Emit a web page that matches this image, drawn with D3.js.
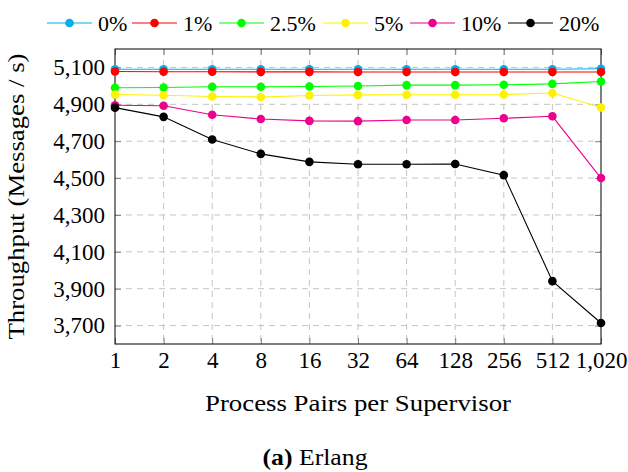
<!DOCTYPE html>
<html>
<head>
<meta charset="utf-8">
<script src="https://cdn.jsdelivr.net/npm/d3@7"></script>
<style>
  html, body { margin: 0; padding: 0; background: #fff; }
  svg { display: block; }
  text { font-family: "Liberation Serif", "Times New Roman", serif; fill: #000; }
</style>
</head>
<body>
<svg id="chart" width="628" height="472"></svg>
<script>
// Process pairs per supervisor (x categories)
const categories = ["1", "2", "4", "8", "16", "32", "64", "128", "256", "512", "1,020"];

// Throughput (messages / s) per failure rate
const seriesNames = ["0%", "1%", "2.5%", "5%", "10%", "20%"];
const rate0   = [5090, 5090, 5090, 5090, 5090, 5090, 5090, 5090, 5090, 5090, 5093];
const rate1   = [5078, 5077, 5077, 5076, 5076, 5075, 5075, 5075, 5075, 5075, 5075];
const rate2_5 = [4990, 4991, 4995, 4995, 4997, 4999, 5004, 5004, 5006, 5011, 5024];
const rate5   = [4953, 4949, 4942, 4940, 4948, 4951, 4952, 4952, 4953, 4961, 4883];
const rate10  = [4895, 4892, 4843, 4820, 4810, 4809, 4815, 4815, 4824, 4835, 4500];
const rate20  = [4882, 4832, 4709, 4631, 4588, 4575, 4575, 4576, 4516, 3941, 3714];
const seriesColors = ["#00aeef", "#ff0000", "#00ff00", "#fff200", "#ec008c", "#000000"];

const yTicks = [3700, 3900, 4100, 4300, 4500, 4700, 4900, 5100];

const allSeries = [rate0, rate1, rate2_5, rate5, rate10, rate20].map((vals, i) => ({
  name: seriesNames[i],
  color: seriesColors[i],
  values: vals.map((v, j) => ({ cat: categories[j], v }))
}));

const svg = d3.select("#chart");
const plotLeft = 115, plotRight = 601, plotTop = 49, plotBottom = 344;

const x = d3.scalePoint().domain(categories).range([plotLeft, plotRight]).padding(0);
const y = d3.scaleLinear().domain([3600, 5200]).range([plotBottom, plotTop]);

// dashed grid
const grid = svg.append("g").attr("stroke", "#c4c4c4").attr("stroke-width", 1)
  .attr("stroke-dasharray", "6,5").attr("fill", "none");
grid.selectAll("line.v").data(categories.slice(1, -1)).join("line")
  .attr("x1", d => x(d)).attr("x2", d => x(d)).attr("y1", plotTop).attr("y2", plotBottom);
grid.selectAll("line.h").data(yTicks).join("line")
  .attr("x1", plotLeft).attr("x2", plotRight).attr("y1", d => y(d)).attr("y2", d => y(d));

// axes with inward ticks on all four sides
const tickLen = 6;
const fontSize = 23;
const gx = svg.append("g").attr("transform", `translate(0,${plotBottom})`)
  .call(d3.axisBottom(x).tickSizeInner(-tickLen).tickSizeOuter(0).tickPadding(8));
const gxTop = svg.append("g").attr("transform", `translate(0,${plotTop})`)
  .call(d3.axisTop(x).tickSizeInner(-tickLen).tickSizeOuter(0).tickFormat(""));
const gy = svg.append("g").attr("transform", `translate(${plotLeft},0)`)
  .call(d3.axisLeft(y).tickValues(yTicks).tickFormat(d3.format(",")).tickSizeInner(-tickLen).tickSizeOuter(0).tickPadding(10));
const gyRight = svg.append("g").attr("transform", `translate(${plotRight},0)`)
  .call(d3.axisRight(y).tickValues(yTicks).tickSizeInner(-tickLen).tickSizeOuter(0).tickFormat(""));

[gx, gxTop, gy, gyRight].forEach(g => {
  g.select(".domain").remove();
  g.selectAll(".tick line").attr("stroke", "#808080").attr("stroke-width", 1);
  g.selectAll(".tick text").attr("font-size", fontSize)
    .attr("font-family", "Liberation Serif, serif").attr("fill", "#000");
});
gx.selectAll(".tick text").attr("dy", "0.71em");

// frame
svg.append("rect").attr("x", plotLeft).attr("y", plotTop)
  .attr("width", plotRight - plotLeft).attr("height", plotBottom - plotTop)
  .attr("fill", "none").attr("stroke", "#000").attr("stroke-width", 1);

// series lines and markers
const line = d3.line().x(d => x(d.cat)).y(d => y(d.v));
const seriesG = svg.append("g");
allSeries.forEach(s => {
  const g = seriesG.append("g");
  g.append("path").datum(s.values).attr("d", line)
    .attr("fill", "none").attr("stroke", s.color).attr("stroke-width", 1.1);
  g.selectAll("circle").data(s.values).join("circle")
    .attr("cx", d => x(d.cat)).attr("cy", d => y(d.v)).attr("r", 4.3)
    .attr("fill", s.color);
});

// axis titles
svg.append("text").attr("x", (plotLeft + plotRight) / 2).attr("y", 411)
  .attr("text-anchor", "middle").attr("font-size", fontSize)
  .attr("textLength", 306).attr("lengthAdjust", "spacingAndGlyphs")
  .text("Process Pairs per Supervisor");
svg.append("text")
  .attr("transform", `translate(24,${(plotTop + plotBottom) / 2}) rotate(-90)`)
  .attr("text-anchor", "middle").attr("font-size", fontSize)
  .attr("textLength", 286).attr("lengthAdjust", "spacingAndGlyphs")
  .text("Throughput (Messages / s)");

// legend
const legendX = [47, 132, 219, 323, 410, 508];
const legend = svg.append("g");
allSeries.forEach((s, i) => {
  const g = legend.append("g").attr("transform", `translate(${legendX[i]},23)`);
  g.append("line").attr("x1", 0).attr("x2", 45).attr("y1", 0).attr("y2", 0)
    .attr("stroke", s.color).attr("stroke-width", 1.1);
  g.append("circle").attr("cx", 22.5).attr("cy", 0).attr("r", 4.3).attr("fill", s.color);
  g.append("text").attr("x", 51).attr("y", 0).attr("dy", "0.35em")
    .attr("font-size", 22).text(s.name);
});

// caption
const cap = svg.append("text").attr("x", 315).attr("y", 465)
  .attr("text-anchor", "middle").attr("font-size", fontSize)
  .attr("textLength", 105).attr("lengthAdjust", "spacingAndGlyphs");
cap.append("tspan").attr("font-weight", "bold").text("(a)");
cap.append("tspan").text(" Erlang");
</script>
</body>
</html>
